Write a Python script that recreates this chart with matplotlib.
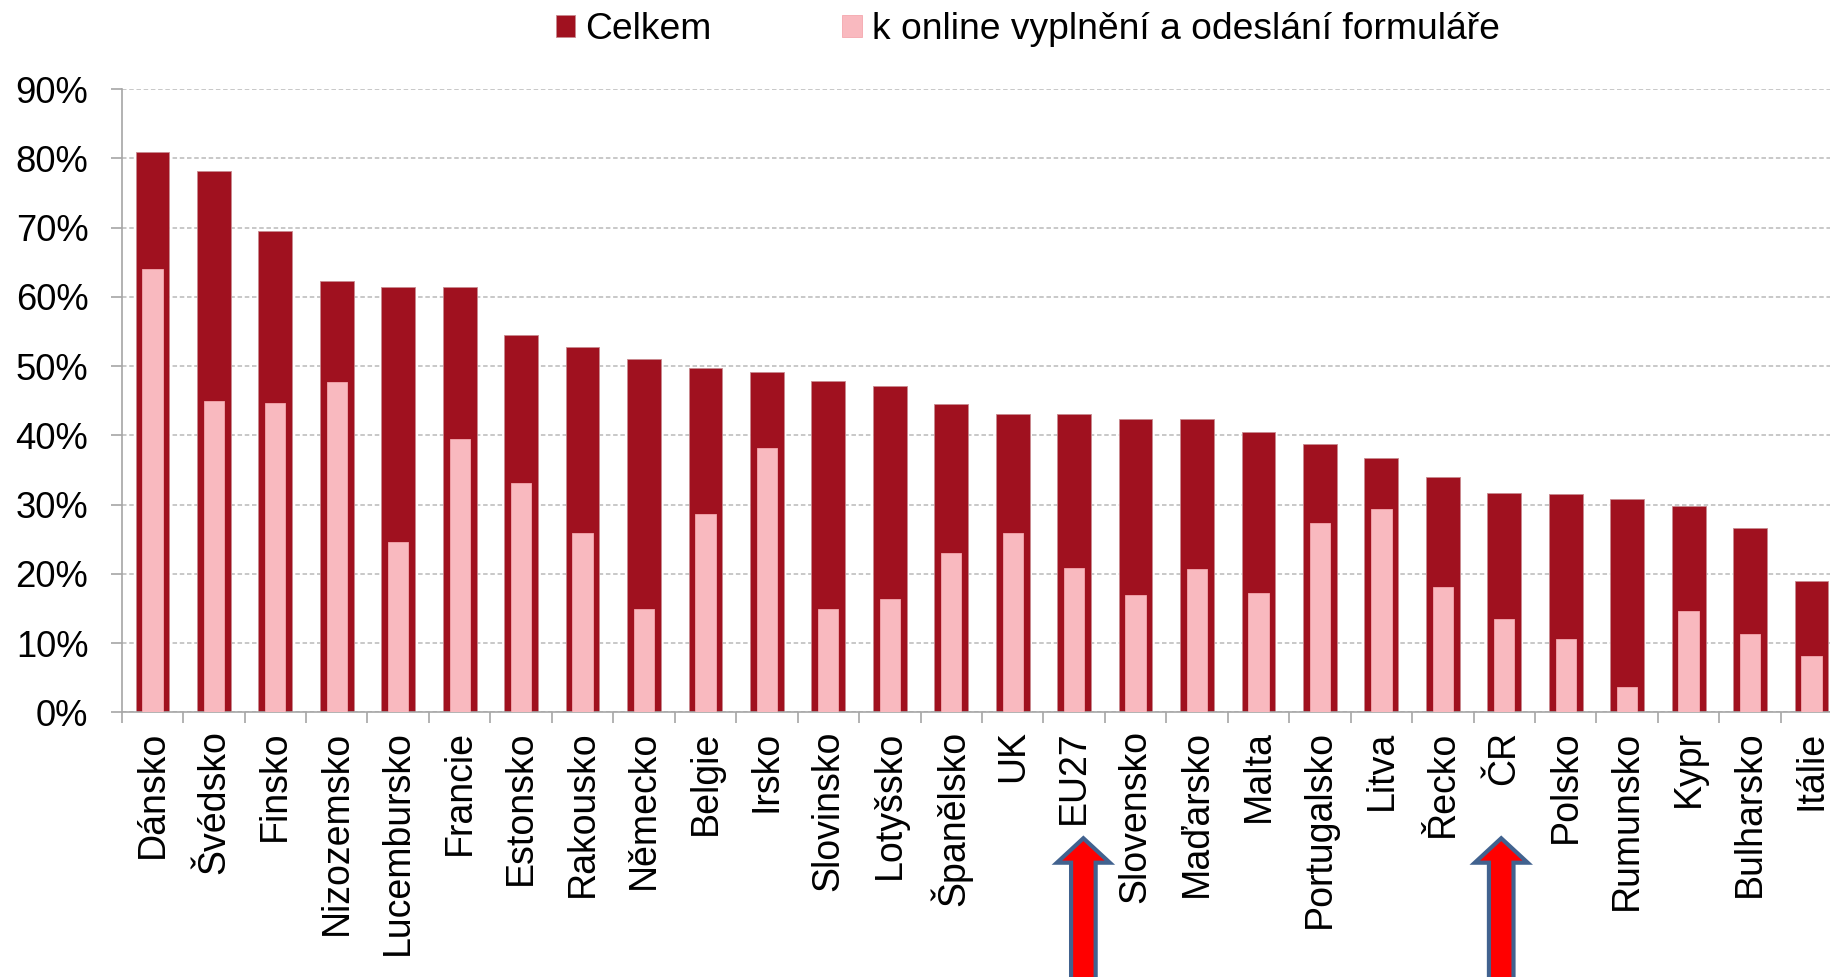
import matplotlib.pyplot as plt
import matplotlib.transforms as mtransforms
from matplotlib.patches import Polygon
from matplotlib.ticker import FixedLocator

plt.rcParams['font.family'] = ['Liberation Sans', 'DejaVu Sans']

# data (percent)
countries = ['Dánsko', 'Švédsko', 'Finsko', 'Nizozemsko', 'Lucembursko', 'Francie',
             'Estonsko', 'Rakousko', 'Německo', 'Belgie', 'Irsko', 'Slovinsko',
             'Lotyšsko', 'Španělsko', 'UK', 'EU27', 'Slovensko', 'Maďarsko', 'Malta',
             'Portugalsko', 'Litva', 'Řecko', 'ČR', 'Polsko', 'Rumunsko', 'Kypr',
             'Bulharsko', 'Itálie']
celkem = [80.9, 78.2, 69.5, 62.3, 61.4, 61.4, 54.5, 52.7, 51.0, 49.7, 49.1, 47.9,
          47.1, 44.5, 43.1, 43.1, 42.4, 42.4, 40.5, 38.7, 36.7, 34.0, 31.6, 31.5,
          30.8, 29.8, 26.6, 19.0]
online = [64.0, 44.9, 44.6, 47.7, 24.6, 39.5, 33.1, 25.9, 14.9, 28.6, 38.1, 14.9,
          16.4, 23.0, 25.9, 20.8, 17.0, 20.7, 17.2, 27.3, 29.4, 18.1, 13.5, 10.6,
          3.7, 14.7, 11.3, 8.2]
series_labels = ['Celkem', 'k online vyplnění a odeslání formuláře']
y_ticks = [0, 10, 20, 30, 40, 50, 60, 70, 80, 90]
highlighted = ['EU27', 'ČR']
arrow_shift = [0.15, -0.05]   # arrows were placed by hand, slightly off-centre

dark = '#A0111F'
pink = '#F9B9BF'

fig = plt.figure(figsize=(18.3, 9.77), dpi=100)
# plot area runs a little past the right edge, as in the cropped original
ax = fig.add_axes([0.0665, 0.2709, 0.9402, 0.638])

x = list(range(len(countries)))
b1 = ax.bar(x, celkem, width=0.55, color=dark, edgecolor='#C98A90', linewidth=0.6,
            label=series_labels[0], zorder=2)
b2 = ax.bar(x, online, width=0.33, color=pink, edgecolor='#F4A7AE', linewidth=0.6,
            label=series_labels[1], zorder=3)

ax.set_xlim(-0.5, len(countries) - 0.5)
ax.set_ylim(0, 90)

ax.set_yticks(y_ticks)
ax.set_yticklabels([f'{v}%' for v in y_ticks])
ax.yaxis.grid(True, color='#C4C4C4', linestyle=(0, (2.5, 1.5)), linewidth=1.3)
ax.set_axisbelow(True)

ax.set_xticks(x)
ax.set_xticklabels(countries, rotation=90)
ax.xaxis.set_minor_locator(FixedLocator([i - 0.5 for i in range(len(countries) + 1)]))
ax.tick_params(axis='x', which='major', length=0, pad=13, labelsize=27)
ax.tick_params(axis='x', which='minor', length=8, width=1.2, color='#A6A6A6')
ax.tick_params(axis='y', length=8, width=1.2, color='#A6A6A6', pad=16, labelsize=26.2)

for side in ['top', 'right']:
    ax.spines[side].set_visible(False)
for side in ['left', 'bottom']:
    ax.spines[side].set_color('#A6A6A6')
    ax.spines[side].set_linewidth(1.2)

fig.legend(handles=[b1, b2], labels=series_labels, loc='center',
           bbox_to_anchor=(0.5615, 0.970), ncol=2, frameon=False, fontsize=26.8,
           handlelength=0.53, handleheight=0.53, handletextpad=0.27,
           columnspacing=3.5, borderpad=0)

# red arrows under the highlighted categories
trans = mtransforms.blended_transform_factory(ax.transData, fig.transFigure)
for name, dx in zip(highlighted, arrow_shift):
    cx = countries.index(name) + dx
    hw, sw = 0.43, 0.2
    tip, base, bottom = 0.142, 0.117, -0.02
    pts = [(cx, tip), (cx + hw, base), (cx + sw, base), (cx + sw, bottom),
           (cx - sw, bottom), (cx - sw, base), (cx - hw, base)]
    fig.add_artist(Polygon(pts, closed=True, facecolor='#FF0000', edgecolor='#41628F',
                           linewidth=3, transform=trans, clip_on=False))

fig.savefig('out.png', dpi=100)
